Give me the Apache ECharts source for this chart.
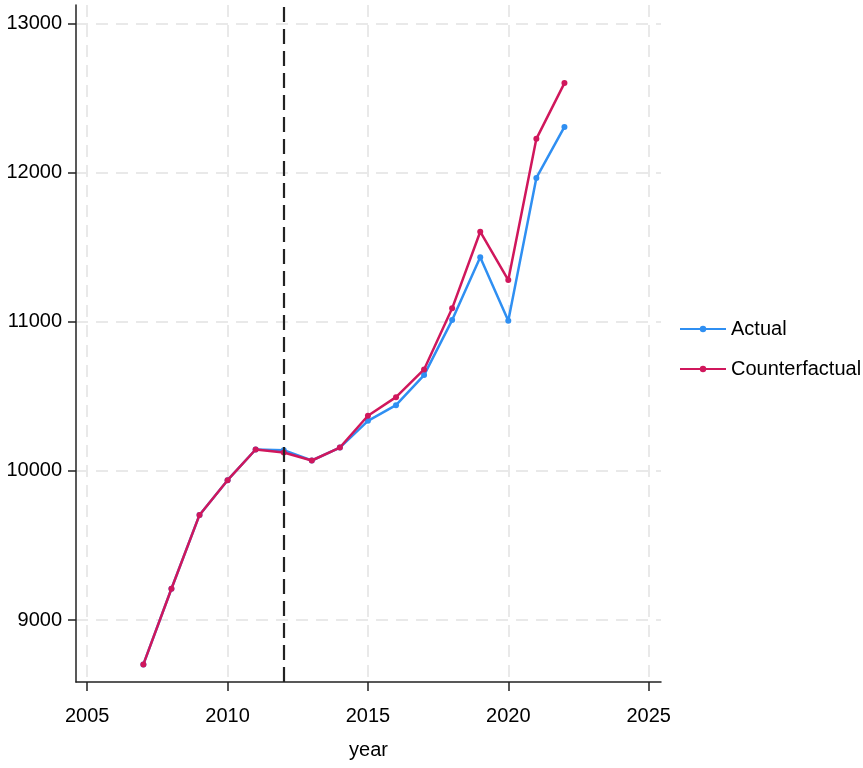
<!DOCTYPE html>
<html>
<head>
<meta charset="utf-8">
<script src="https://cdn.jsdelivr.net/npm/echarts@6/dist/echarts.min.js"></script>
<style>
  html, body { margin: 0; padding: 0; background: #ffffff; }
  #chart { width: 863px; height: 768px; }
</style>
</head>
<body>
<div id="chart"></div>
<script>
// Annual values, actual vs. counterfactual path
const years = [2007, 2008, 2009, 2010, 2011, 2012, 2013, 2014, 2015, 2016, 2017, 2018, 2019, 2020, 2021, 2022];
const actual = [8702, 9210, 9705, 9938, 10144, 10139, 10070, 10157, 10336, 10441, 10643, 11012, 11433, 11008, 11966, 12308];
const counterfactual = [8702, 9210, 9705, 9938, 10144, 10124, 10070, 10157, 10370, 10495, 10681, 11091, 11605, 11281, 12228, 12602];
const xTicks = [2005, 2010, 2015, 2020, 2025];
const yTicks = [9000, 10000, 11000, 12000, 13000];
const treatmentYear = 2012;

const FONT = '"Liberation Sans", Arial, sans-serif';
const FS = 20;
const BLUE = '#2f8ff2';
const RED = '#d0175c';

const chart = echarts.init(document.getElementById('chart'), null, { renderer: 'canvas' });

const pair = (vals) => years.map((y, i) => [y, vals[i]]);
const plain = (v) => String(Math.round(v));

chart.setOption({
  animation: false,
  backgroundColor: '#ffffff',
  grid: { left: 76, right: 202, top: 5, bottom: 86, containLabel: false, outerBoundsMode: 'none' },
  xAxis: {
    type: 'value',
    min: 2004.6,
    max: 2025.44,
    name: 'year',
    nameLocation: 'middle',
    nameGap: 58,
    nameTextStyle: { fontFamily: FONT, fontSize: FS, color: '#000' },
    axisLine: { show: true, onZero: false, lineStyle: { color: '#222', width: 1.5 } },
    axisTick: { show: true, length: 9, customValues: xTicks, lineStyle: { color: '#222', width: 1.5 } },
    axisLabel: { customValues: xTicks, formatter: plain, margin: 24, fontFamily: FONT, fontSize: FS, color: '#000' },
    splitLine: { show: true, lineStyle: { color: '#e9e9e9', width: 2, type: [12, 8] } }
  },
  yAxis: {
    type: 'value',
    min: 8584,
    max: 13126,
    axisLine: { show: true, onZero: false, lineStyle: { color: '#222', width: 1.5 } },
    axisTick: { show: true, length: 8, customValues: yTicks, lineStyle: { color: '#222', width: 1.5 } },
    axisLabel: { customValues: yTicks, formatter: plain, margin: 14, fontFamily: FONT, fontSize: FS, color: '#000' },
    splitLine: { show: true, lineStyle: { color: '#e9e9e9', width: 2, type: [12, 8] } }
  },
  legend: {
    orient: 'vertical',
    left: 674,
    top: 314,
    itemWidth: 46,
    itemHeight: 8,
    itemGap: 20,
    textStyle: { fontFamily: FONT, fontSize: FS, color: '#000' },
    data: ['Actual', 'Counterfactual']
  },
  series: [
    {
      name: 'Actual',
      type: 'line',
      data: pair(actual),
      symbol: 'circle',
      symbolSize: 6,
      lineStyle: { color: BLUE, width: 2.5 },
      itemStyle: { color: BLUE },
      z: 3,
      markLine: {
        silent: true,
        symbol: ['none', 'none'],
        label: { show: false },
        lineStyle: { color: '#222', width: 2.2, type: [15, 7] },
        data: [{ xAxis: treatmentYear }]
      }
    },
    {
      name: 'Counterfactual',
      type: 'line',
      data: pair(counterfactual),
      symbol: 'circle',
      symbolSize: 6,
      lineStyle: { color: RED, width: 2.5 },
      itemStyle: { color: RED },
      z: 4
    }
  ]
});
</script>
</body>
</html>
